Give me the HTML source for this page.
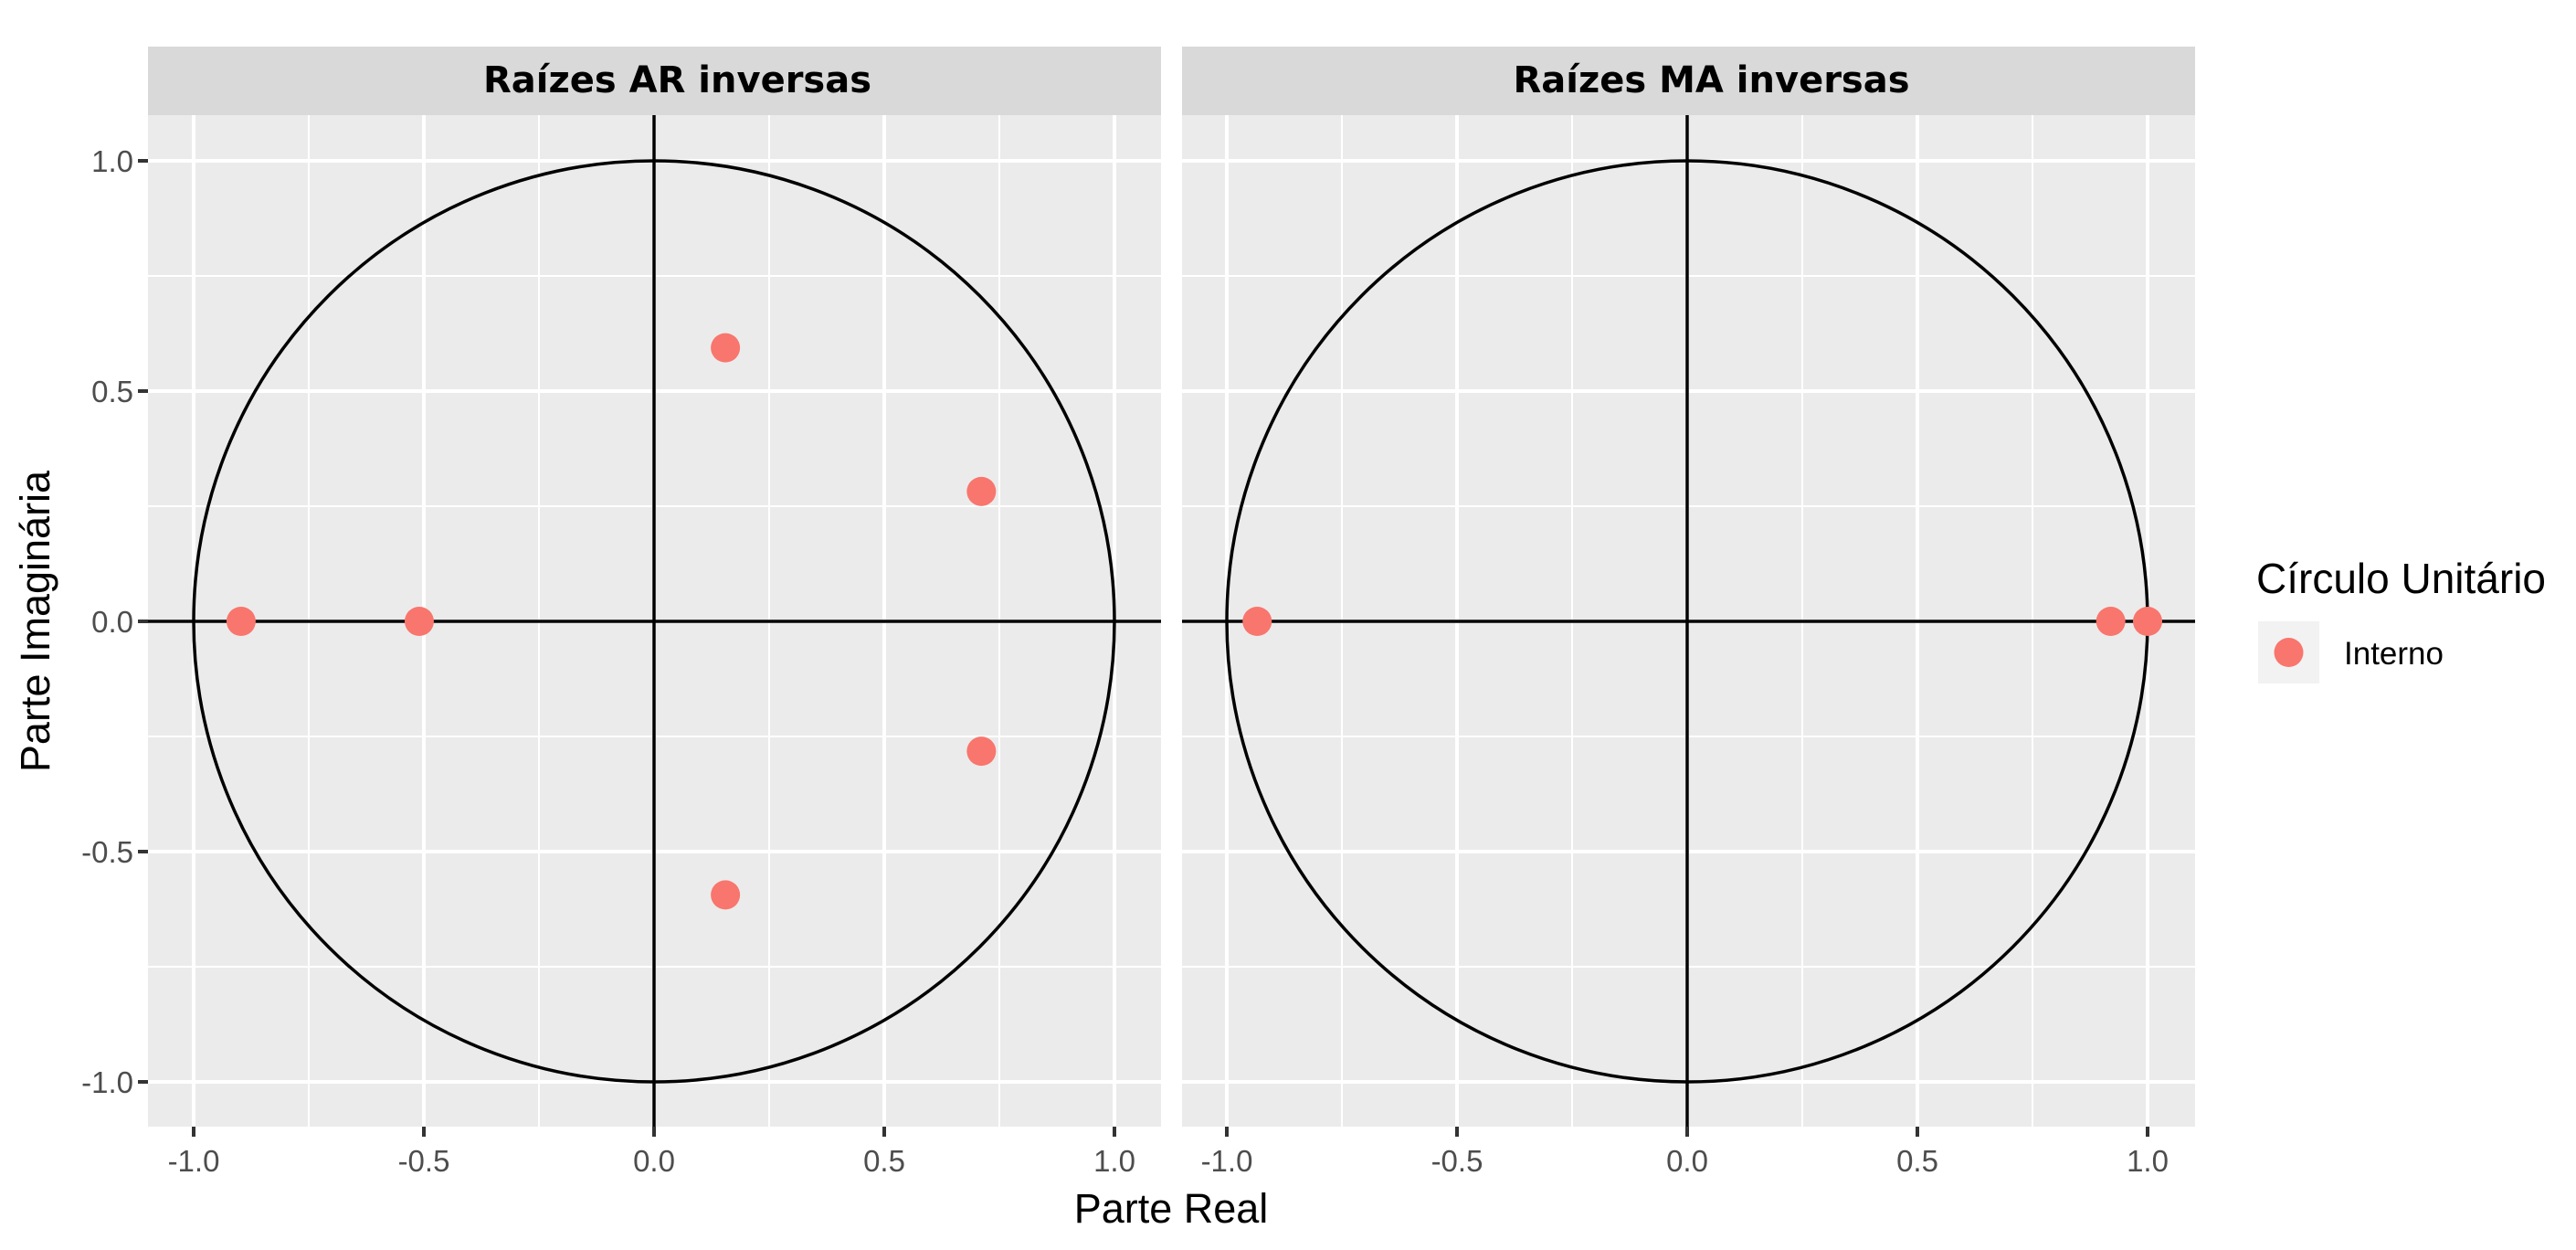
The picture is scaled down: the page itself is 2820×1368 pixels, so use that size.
<!DOCTYPE html>
<html><head><meta charset="utf-8"><style>
html,body{margin:0;padding:0;background:#fff;}
svg{display:block;}
</style></head><body>
<svg id="chart" width="2820" height="1368" xmlns="http://www.w3.org/2000/svg"></svg>
<script>
const arRe = [-0.897, -0.51, 0.155, 0.155, 0.711, 0.711];
const arIm = [0, 0, 0.594, -0.594, 0.282, -0.282];
const maRe = [-0.934, 0.92, 1.0];
const maIm = [0, 0, 0];
const majorTicks = [-1.0, -0.5, 0.0, 0.5, 1.0];
const tickLabels = ["-1.0", "-0.5", "0.0", "0.5", "1.0"];
const minorTicks = [-0.75, -0.25, 0.25, 0.75];
const panelTitles = ["Raízes AR inversas", "Raízes MA inversas"];

const svgRoot = document.getElementById('chart');
const NS = 'http://www.w3.org/2000/svg';
function mk(tag, attrs, parent){
  const e = document.createElementNS(NS, tag);
  for (const k in attrs) e.setAttribute(k, attrs[k]);
  (parent||svgRoot).appendChild(e);
  return e;
}
const unitPx = 504;
const yScale = v => 680 - v*unitPx;
const panels = [
  {left:162, right:1271, cx:716, re:arRe, im:arIm, title:panelTitles[0], key:'ar'},
  {left:1294, right:2403, cx:1847, re:maRe, im:maIm, title:panelTitles[1], key:'ma'}
];
const plotTop = 126, plotBottom = 1233;
panels.forEach((p, pi) => {
  const xScale = v => p.cx + v*unitPx;
  const g = mk('g', {});
  
  
  const strip = mk('rect', {x:p.left, y:51, width:p.right-p.left, height:plotTop-51, fill:'#d9d9d9'}, g);
  
  
  const st = mk('text', {x:(p.left+p.right)/2+25, y:101, 'text-anchor':'middle', 'font-family':'"DejaVu Sans", sans-serif', 'font-weight':'bold', 'font-size':'40', fill:'#000'}, g);
  st.textContent = p.title;
  
  
  const bg = mk('rect', {x:p.left, y:plotTop, width:p.right-p.left, height:plotBottom-plotTop, fill:'#ebebeb'}, g);
  
  
  minorTicks.forEach(t => {
    const vl = mk('line', {x1:xScale(t), x2:xScale(t), y1:plotTop, y2:plotBottom, stroke:'#fff', 'stroke-width':2}, g);
    
    
    const hl = mk('line', {x1:p.left, x2:p.right, y1:yScale(t), y2:yScale(t), stroke:'#fff', 'stroke-width':2}, g);
    
    
  });
  majorTicks.forEach((t, i) => {
    const vl = mk('line', {x1:xScale(t), x2:xScale(t), y1:plotTop, y2:plotBottom, stroke:'#fff', 'stroke-width':4}, g);
    
    
    const hl = mk('line', {x1:p.left, x2:p.right, y1:yScale(t), y2:yScale(t), stroke:'#fff', 'stroke-width':4}, g);
    
    
    const tk = mk('line', {x1:xScale(t), x2:xScale(t), y1:plotBottom, y2:plotBottom+11, stroke:'#333', 'stroke-width':4}, g);
    
    
    const tl = mk('text', {x:xScale(t), y:1282, 'text-anchor':'middle', 'font-family':'"Liberation Sans", sans-serif', 'font-size':'33', fill:'#4d4d4d'}, g);
    tl.textContent = tickLabels[i];
    
    
    if (pi === 0) {
      const ytk = mk('line', {x1:p.left-11, x2:p.left, y1:yScale(t), y2:yScale(t), stroke:'#333', 'stroke-width':4}, g);
      
      
      const yl = mk('text', {x:p.left-16, y:yScale(t)+12, 'text-anchor':'end', 'font-family':'"Liberation Sans", sans-serif', 'font-size':'33', fill:'#4d4d4d'}, g);
      yl.textContent = tickLabels[i];
      
      
    }
  });
  const hz = mk('line', {x1:p.left, x2:p.right, y1:yScale(0), y2:yScale(0), stroke:'#000', 'stroke-width':3.5}, g);
  
  
  const vt = mk('line', {x1:xScale(0), x2:xScale(0), y1:plotTop, y2:plotBottom, stroke:'#000', 'stroke-width':3.5}, g);
  
  
  const c = mk('circle', {cx:xScale(0), cy:yScale(0), r:unitPx, fill:'none', stroke:'#000', 'stroke-width':3.5}, g);
  
  
  p.re.forEach((r, i) => {
    const pt = mk('circle', {cx:xScale(r), cy:yScale(p.im[i]), r:16, fill:'#f8766d'}, g);
    
    
  });
});
const xt = mk('text', {x:1282, y:1338, 'text-anchor':'middle', 'font-family':'"Liberation Sans", sans-serif', 'font-size':'45', fill:'#000'});
xt.textContent = 'Parte Real';


const yt = mk('text', {x:0, y:0, transform:'translate(54,680) rotate(-90)', 'text-anchor':'middle', 'font-family':'"Liberation Sans", sans-serif', 'font-size':'45', fill:'#000'});
yt.textContent = 'Parte Imaginária';


const lg = mk('g', {});


const lt = mk('text', {x:2470, y:649, 'font-family':'"Liberation Sans", sans-serif', 'font-size':'46', fill:'#000'}, lg);
lt.textContent = 'Círculo Unitário';


const lk = mk('rect', {x:2472, y:680, width:67, height:68, fill:'#f2f2f2'}, lg);


const lp = mk('circle', {cx:2505.5, cy:714, r:16, fill:'#f8766d'}, lg);


const ll = mk('text', {x:2566, y:727, 'font-family':'"Liberation Sans", sans-serif', 'font-size':'35', fill:'#000'}, lg);
ll.textContent = 'Interno';


</script>
</body></html>
